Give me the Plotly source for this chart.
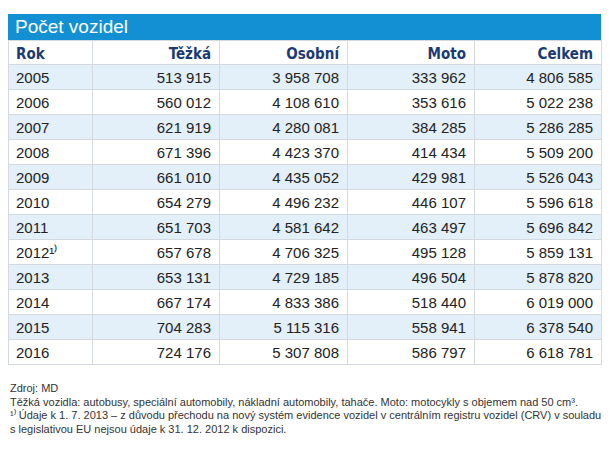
import plotly.graph_objects as go

roky = ["2005", "2006", "2007", "2008", "2009", "2010", "2011",
        "2012¹⁾", "2013", "2014", "2015", "2016"]
tezka = [513915, 560012, 621919, 671396, 661010, 654279, 651703,
         657678, 653131, 667174, 704283, 724176]
osobni = [3958708, 4108610, 4280081, 4423370, 4435052, 4496232, 4581642,
          4706325, 4729185, 4833386, 5115316, 5307808]
moto = [333962, 353616, 384285, 414434, 429981, 446107, 463497,
        495128, 496504, 518440, 558941, 586797]
celkem = [4806585, 5022238, 5286285, 5509200, 5526043, 5596618, 5696842,
          5859131, 5878820, 6019000, 6378540, 6618781]
hlavicka = ["Rok", "Těžká", "Osobní", "Moto", "Celkem"]

# stránka má okraj 8 px (body margin), proto je figura o 2×8 px menší
OFF = 8
W, H = 612 - 2 * OFF, 455 - 2 * OFF
MODRA = "#138FD3"
NAVY = "#1D3B73"


def px(x):
    return (x - OFF) / W


def py(y):
    return 1 - (y - OFF) / H


def fmt(v):
    return f"{v:,}".replace(",", "\u00a0")


fills = ["#E3EFF9" if i % 2 == 0 else "white" for i in range(len(roky))]

fig = go.Figure(go.Table(
    domain=dict(x=[px(8), px(601)], y=[0, py(40)]),
    columnwidth=[84, 127, 128, 127, 127],
    header=dict(
        values=hlavicka,
        align=["left", "right", "right", "right", "right"],
        fill_color="white",
        line=dict(color="#D3D9DF", width=1),
        font=dict(family="Liberation Sans Narrow, DejaVu Sans Condensed, Arial Narrow",
                  size=15, color=NAVY, weight="bold"),
        height=24,
    ),
    cells=dict(
        values=[roky, [fmt(v) for v in tezka], [fmt(v) for v in osobni],
                [fmt(v) for v in moto], [fmt(v) for v in celkem]],
        align=["left", "right", "right", "right", "right"],
        fill_color=[fills] * 5,
        line=dict(color="#D3D9DF", width=1),
        font=dict(family="Liberation Sans, Arial, sans-serif", size=15, color="#222"),
        height=25,
    ),
))

# modrý pruh s nadpisem
fig.add_shape(type="rect", xref="paper", yref="paper",
              x0=px(8), x1=px(601), y0=py(40), y1=py(14),
              fillcolor=MODRA, line_width=0, layer="below")
fig.add_annotation(text="Počet vozidel", xref="paper", yref="paper",
                   x=px(13), y=py(27), xanchor="left", yanchor="middle",
                   showarrow=False,
                   font=dict(family="Liberation Sans, Arial", size=19, color="white"))

poznamky = [
    "Zdroj: MD",
    "Těžká vozidla: autobusy, speciální automobily, nákladní automobily, tahače. "
    "Moto: motocykly s objemem nad 50 cm³.",
    "¹⁾ Údaje k 1. 7. 2013 – z důvodu přechodu na nový systém evidence vozidel "
    "v centrálním registru vozidel (CRV) v souladu",
    "s legislativou EU nejsou údaje k 31. 12. 2012 k dispozici.",
]
for i, t in enumerate(poznamky):
    fig.add_annotation(text=t, xref="paper", yref="paper",
                       x=px(8), y=py(388 + i * 13.5),
                       xanchor="left", yanchor="middle", showarrow=False,
                       font=dict(family="Liberation Sans, Arial", size=11, color="#333"))

fig.update_layout(width=W, height=H, margin=dict(l=0, r=0, t=0, b=0),
                  paper_bgcolor="white", plot_bgcolor="white")
fig.write_html("out.html")
